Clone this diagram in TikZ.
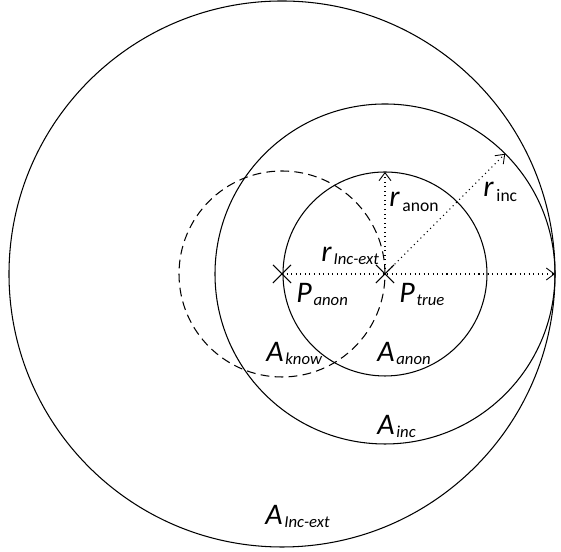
\documentclass[tikz,border=0pt]{standalone}
\usepackage{fontspec}
\setmainfont{Carlito}
\usepackage{tikz}
\usetikzlibrary{arrows.meta, positioning, calc, shapes.misc}

\newcommand{\lbl}[2]{\textit{#1}\kern1pt\raisebox{-1.5pt}{\fontsize{9.5}{9.5}\selectfont\itshape #2}}
\newcommand{\lblup}[2]{\textit{#1}\kern1.5pt\raisebox{-2.5pt}{\fontsize{10}{10}\selectfont\upshape #2}}

\begin{document}
\begin{tikzpicture}[
  zone/.style={draw=black, line width=0.6pt},
  known/.style={draw=black, line width=0.6pt, dash pattern=on 5pt off 3pt},
  xmark/.style={cross out, draw=black, line width=0.6pt, minimum size=0.34cm, inner sep=0pt},
  radius arr/.style={dotted, line width=0.6pt, -{Straight Barb[length=1.6mm, width=2.4mm, line width=0.5pt]}},
  lbl/.style={anchor=base west, inner sep=0pt, font=\fontsize{17}{17}\selectfont}
]
\useasboundingbox (0,0) rectangle (11.22,11.04);
% centres
\coordinate (pa) at (5.64,5.56);
\coordinate (pt) at (7.70,5.56);
% areas
\draw[zone] (pa) circle (5.46);
\draw[zone] (pt) circle (3.40);
\draw[zone] (pt) circle (2.04);
\draw[known] (pa) circle (2.06);
% radii
\coordinate (extend) at ($(pt)+(3.40,0)$);
\coordinate (anontop) at ($(pt)+(0,2.04)$);
\coordinate (incend) at ($(pt)+(45:3.40)$);
\draw[radius arr] (pa) -- (extend);
\draw[radius arr] (pt) -- (anontop);
\draw[radius arr] (pt) -- (incend);
% position marks
\node[xmark] (panon) at (pa) {};
\node[xmark] (ptrue) at (pt) {};
% labels
\node[lbl] (rext) at (6.42,5.80) {\lbl{r}{Inc-ext}};
\node[lbl] (lpanon) at (5.92,4.98) {\lbl{P}{anon}};
\node[lbl] (lptrue) at (7.98,4.98) {\lbl{P}{true}};
\node[lbl] (ranon) at (7.78,6.90) {\lblup{r}{anon}};
\node[lbl] (rinc) at (9.66,7.10) {\lblup{r}{inc}};
\node[lbl] (aknow) at (5.32,3.80) {\lbl{A}{know}};
\node[lbl] (aanon) at (7.54,3.80) {\lbl{A}{anon}};
\node[lbl] (ainc) at (7.54,2.34) {\lbl{A}{inc}};
\node[lbl] (aext) at (5.30,0.54) {\lbl{A}{Inc-ext}};
\end{tikzpicture}
\end{document}
